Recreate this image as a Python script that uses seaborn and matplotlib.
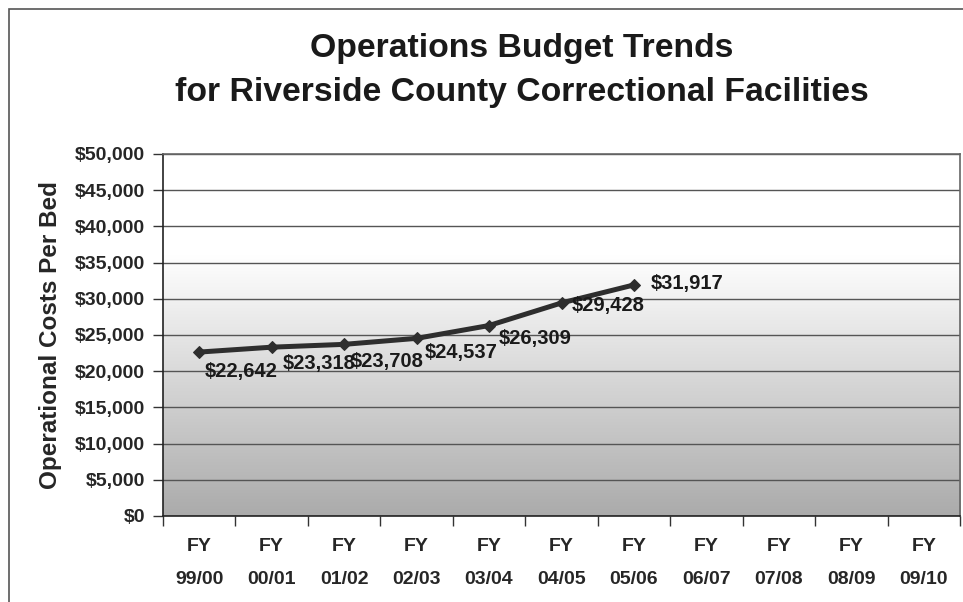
import numpy as np
import matplotlib
matplotlib.use("Agg")
import matplotlib.pyplot as plt
import matplotlib.patches as mpatches
import seaborn as sns
import pandas as pd

# Chart data
FISCAL_YEARS = ["99/00", "00/01", "01/02", "02/03", "03/04", "04/05",
                "05/06", "06/07", "07/08", "08/09", "09/10"]
COST_PER_BED = [22642, 23318, 23708, 24537, 26309, 29428, 31917]
Y_TICKS = list(range(0, 50001, 5000))

# label offsets (points) for the value labels, right / down of each point
LABEL_DX = [4, 8, 5, 6, 7, 7, 12]
LABEL_DY = [-14, -12, -12, -10, -9, -2, 1]

sns.set_theme(style="white")
plt.rcParams['font.family'] = ['Liberation Sans', 'DejaVu Sans']
plt.rcParams['font.weight'] = 'bold'

fig = plt.figure(figsize=(9.63, 6.02), dpi=100)
W, H = 963, 602
ax = fig.add_axes([163 / W, 1 - 516 / H, (960 - 163) / W, (516 - 154) / H])

# outer frame of the chart (cut off on the right and bottom)
fig.patches.append(mpatches.Rectangle((9 / W, -0.1), 2, 1 - 9 / H + 0.1,
                                      transform=fig.transFigure, fill=False,
                                      edgecolor='#555555', linewidth=1.2))

# gradient plot background: white in the upper part, grey at the bottom
frac = np.linspace(0, 1, 256)          # 0 = bottom, 1 = top
shade = np.clip((0.72 - frac) / 0.72, 0, 1)
vals = 1.0 - 0.33 * shade
img = np.repeat(vals[:, None, None], 3, axis=2)
ax.imshow(img, extent=[-0.5, 10.5, 0, 50000], aspect='auto',
          origin='lower', zorder=0, interpolation='bilinear')

df = pd.DataFrame({"idx": np.arange(len(COST_PER_BED)), "cost": COST_PER_BED})
sns.lineplot(data=df, x="idx", y="cost", ax=ax, color='#2e2e2e', linewidth=3.6,
             marker='D', markersize=6.5, markeredgecolor='#2e2e2e', zorder=4)

for i, v in enumerate(COST_PER_BED):
    ax.annotate(f"${v:,}", (i, v), xytext=(LABEL_DX[i], LABEL_DY[i]),
                textcoords='offset points', ha='left', va='center',
                fontsize=14.5, fontweight='bold', color='#1a1a1a', zorder=5)

ax.set_xlim(-0.5, len(FISCAL_YEARS) - 0.5)
ax.set_ylim(0, 50000)
ax.set_yticks(Y_TICKS)
ax.set_yticklabels([f"${t:,}" for t in Y_TICKS], fontsize=14, fontweight='bold')
ax.grid(axis='y', color='#555555', linewidth=1.0)
for line in ax.get_ygridlines():
    line.set_zorder(1)

# category ticks between categories, labels at centres
ax.set_xticks(np.arange(-0.5, len(FISCAL_YEARS), 1.0))
ax.set_xticklabels([])
ax.set_xticks(np.arange(len(FISCAL_YEARS)), minor=True)
ax.set_xticklabels([f"FY\n{fy}" for fy in FISCAL_YEARS], minor=True,
                   fontsize=14, fontweight='bold', linespacing=2.25)
ax.tick_params(axis='x', which='major', direction='out', length=7, width=1,
               color='#333333', bottom=True)
ax.tick_params(axis='x', which='minor', length=0, pad=16, bottom=True)
ax.tick_params(axis='y', direction='out', length=7, width=1, color='#333333',
               left=True, pad=6)
ax.set_xlabel("")
ax.set_ylabel("Operational Costs Per Bed", fontsize=17.5, fontweight='bold',
              labelpad=9)

for side in ['left', 'bottom']:
    ax.spines[side].set_color('#222222')
    ax.spines[side].set_linewidth(1.2)
for side in ['top', 'right']:
    ax.spines[side].set_color('#666666')
    ax.spines[side].set_linewidth(1.2)

fig.text(522 / W, 1 - 48 / H, "Operations Budget Trends", ha='center',
         va='center', fontsize=24.3, fontweight='bold', color='#1a1a1a')
fig.text(522 / W, 1 - 93 / H, "for Riverside County Correctional Facilities",
         ha='center', va='center', fontsize=24.3, fontweight='bold', color='#1a1a1a')

fig.savefig("out.png", dpi=100)
